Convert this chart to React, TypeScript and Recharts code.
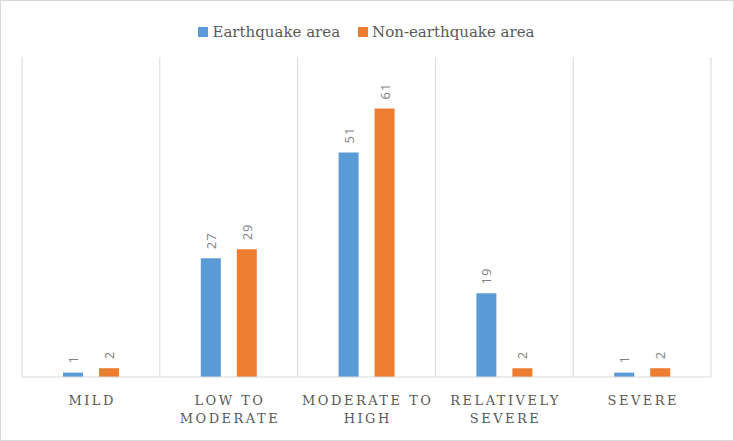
import { BarChart, Bar, XAxis, YAxis, CartesianGrid, Legend, LabelList } from 'recharts'

const categories = ['MILD', 'LOW TO\nMODERATE', 'MODERATE TO\nHIGH', 'RELATIVELY\nSEVERE', 'SEVERE']
const earthquake = [1, 27, 51, 19, 1]
const nonEarthquake = [2, 29, 61, 2, 2]

const seriesNames = ['Earthquake area', 'Non-earthquake area']
const colors = ['#5b9bd5', '#ed7d31']

const data = categories.map((name, i) => ({
  name,
  quake: earthquake[i],
  nonQuake: nonEarthquake[i],
}))

const serif = "'DejaVu Serif', 'Liberation Serif', serif"

// eslint-disable-next-line @typescript-eslint/no-explicit-any
function CategoryTick({ x, y, payload }: any) {
  const lines = String(payload.value).split('\n')
  return (
    <text x={x} y={y} textAnchor="middle" fill="#595959" fontSize={13} fontFamily={serif} letterSpacing={2.5}>
      {lines.map((line, i) => (
        <tspan key={i} x={x + 1.25} dy={i === 0 ? 20 : 18}>
          {line}
        </tspan>
      ))}
    </text>
  )
}

// eslint-disable-next-line @typescript-eslint/no-explicit-any
function RotatedLabel({ x, y, width, value }: any) {
  const cx = x + width / 2
  const ty = y - 9
  return (
    <text
      x={cx}
      y={ty}
      transform={`rotate(-90 ${cx} ${ty})`}
      textAnchor="start"
      dominantBaseline="central"
      fill="#808080"
      fontSize={13}
      fontFamily="'Open Sans', sans-serif"
      letterSpacing={1}
    >
      {value}
    </text>
  )
}

function LegendContent() {
  return (
    <div style={{ display: 'flex', justifyContent: 'center', gap: 18, height: 20, alignItems: 'center' }}>
      {seriesNames.map((n, i) => (
        <div key={n} style={{ display: 'flex', alignItems: 'center' }}>
          <span style={{ width: 10, height: 10, background: colors[i], marginRight: 4, display: 'inline-block' }} />
          <span style={{ fontFamily: serif, fontSize: 15, color: '#595959' }}>{n}</span>
        </div>
      ))}
    </div>
  )
}

export default function App() {
  return (
    <div
      style={{
        position: 'absolute',
        left: 0,
        top: 0,
        width: 734,
        height: 441,
        background: '#fff',
        border: '1px solid #d9d9d9',
        boxSizing: 'border-box',
      }}
    >
      <BarChart
        width={732}
        height={439}
        data={data}
        margin={{ top: 36, right: 22, left: 21, bottom: 0 }}
        barSize={20}
        barGap={16}
      >
        <CartesianGrid
          horizontal={false}
          stroke="#d9d9d9"
          // eslint-disable-next-line @typescript-eslint/no-explicit-any
          verticalCoordinatesGenerator={({ offset }: any) =>
            categories.map((_, i) => offset.left + (i * offset.width) / categories.length).concat(offset.left + offset.width)
          }
        />
        <XAxis
          dataKey="name"
          height={63}
          axisLine={{ stroke: '#d9d9d9' }}
          tickLine={false}
          interval={0}
          tick={<CategoryTick />}
        />
        <YAxis hide domain={[0, 72.7]} />
        <Legend verticalAlign="top" wrapperStyle={{ top: 21 }} content={<LegendContent />} />
        <Bar dataKey="quake" name={seriesNames[0]} fill={colors[0]} isAnimationActive={false}>
          <LabelList dataKey="quake" content={<RotatedLabel />} />
        </Bar>
        <Bar dataKey="nonQuake" name={seriesNames[1]} fill={colors[1]} isAnimationActive={false}>
          <LabelList dataKey="nonQuake" content={<RotatedLabel />} />
        </Bar>
      </BarChart>
    </div>
  )
}
